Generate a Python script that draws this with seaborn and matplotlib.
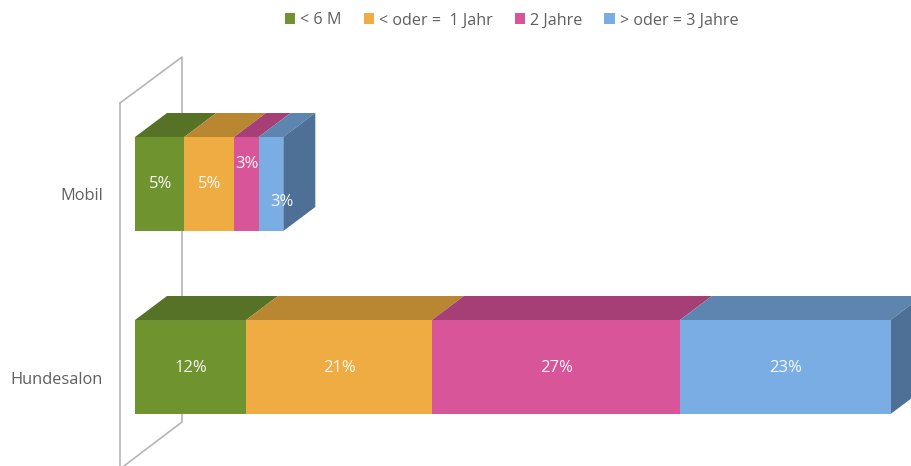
import matplotlib
matplotlib.use("Agg")
import matplotlib.pyplot as plt
from matplotlib.patches import Polygon, Patch
import numpy as np
import pandas as pd
import seaborn as sns

# Daten
kategorien = ["Mobil", "Hundesalon"]
serien = ["< 6 M", "< oder =  1 Jahr", "2 Jahre", "> oder = 3 Jahre"]
# Balkenlaengen (aus dem Bild gemessen, die Beschriftung ist gerundet)
kurz_6m = [5.36, 12.07]
bis_1j = [5.40, 20.2]
zwei_j = [2.68, 26.96]
drei_j = [2.68, 22.9]
label_6m = ["5%", "12%"]
label_1j = ["5%", "21%"]
label_2j = ["3%", "27%"]
label_3j = ["3%", "23%"]

farben = ["#6F942F", "#EEAC42", "#D9559A", "#79ADE3"]
farben_oben = ["#557226", "#B98632", "#A63F76", "#5E84B0"]
farbe_seite = "#4E7096"
grau = "#5F5F5F"
wand = "#B5B5B5"

sns.set_theme(style="white")
plt.rcParams["font.family"] = ["Open Sans", "DejaVu Sans"]

W, H = 912, 466
fig = plt.figure(figsize=(W / 100, H / 100), dpi=100)
ax = fig.add_axes([0, 0, 1, 1])

# 1 Einheit = 9.2 px, Abstand der Kategorien 183 px
sx, sy = 9.2, 183.0
x0, y0 = 135, 184
tiefe_x, tiefe_y = 32 / sx, 24 / sy


def px(x, y):
    return (x - x0) / sx, (y - y0) / sy


# Rueckwand, liegt hinter den Balken
wand_hinten = [px(120, 103), px(182, 57), px(182, 422), px(124, 466)]
ax.plot(*zip(*wand_hinten), color=wand, lw=1.2, zorder=1)
wand_vorn = [px(120, 103), px(120, 470)]
ax.plot(*zip(*wand_vorn), color=wand, lw=1.2, zorder=4)

werte = np.array([kurz_6m, bis_1j, zwei_j, drei_j])
texte = [label_6m, label_1j, label_2j, label_3j]
links = np.zeros(2)
balken_hoehe = 94 / sy
# Verschiebung der Beschriftungen nur bei Mobil
versatz = {(2, 0): (0.0, -20), (3, 0): (10, 18)}

for i, serie in enumerate(serien):
    df = pd.DataFrame({"kategorie": kategorien, "wert": werte[i]})
    n_vorher = len(ax.patches)
    sns.barplot(data=df, y="kategorie", x="wert", order=kategorien, left=links,
                color=farben[i], saturation=1, width=balken_hoehe, orient="h",
                ax=ax, zorder=3, linewidth=0, edgecolor="none")
    neue = ax.patches[n_vorher:]
    for j, rect in enumerate(neue):
        l, b = rect.get_x(), rect.get_y()
        w, h = rect.get_width(), rect.get_height()
        # Deckflaeche
        oben = [(l, b), (l + w, b), (l + w + tiefe_x, b - tiefe_y), (l + tiefe_x, b - tiefe_y)]
        ax.add_patch(Polygon(oben, closed=True, fc=farben_oben[i], ec="none", zorder=2.5))
        # Seitenflaeche nur am letzten Segment
        if i == len(serien) - 1:
            seite = [(l + w, b), (l + w + tiefe_x, b - tiefe_y),
                     (l + w + tiefe_x, b + h - tiefe_y), (l + w, b + h)]
            ax.add_patch(Polygon(seite, closed=True, fc=farbe_seite, ec="none", zorder=2.5))
        dx, dy = versatz.get((i, j), (0, 0))
        ax.text(l + w / 2 + (dx + 0.7) / sx, j + (dy + 0.5) / sy, texte[i][j], color="white",
                ha="center", va="center", fontsize=12, alpha=0.95, zorder=5)
    links = links + werte[i]

# Kategorien (Beschriftung sitzt etwas unter der Balkenmitte)
for j, kat in enumerate(kategorien):
    ax.text(*px(102.7, y0 + j * sy + 12.5), kat, color=grau, ha="right", va="center", fontsize=11.8)

ax.set_xlim(-x0 / sx, (W - x0) / sx)
ax.set_ylim((H - y0) / sy, -y0 / sy)
ax.axis("off")

griffe = [Patch(fc=f, ec="none", label=s) for f, s in zip(farben, serien)]
fig.legend(handles=griffe, loc="upper center", bbox_to_anchor=(511.5 / W, 1 + 2 / H), ncol=4,
           frameon=False, fontsize=11.6, labelcolor=grau, handlelength=0.65, handleheight=0.65,
           handletextpad=0.3, columnspacing=1.37)

fig.savefig("out.png", dpi=100)
